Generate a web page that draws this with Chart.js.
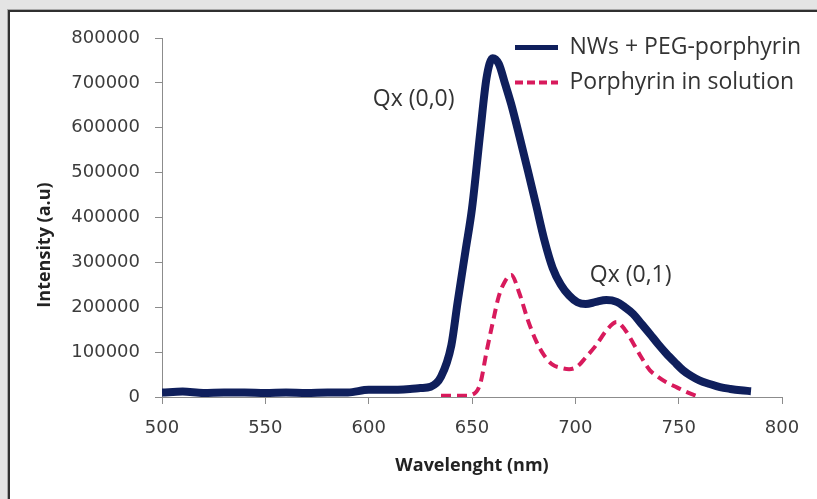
<!DOCTYPE html>
<html>
<head>
<meta charset="utf-8">
<script src="https://cdn.jsdelivr.net/npm/chart.js@4.4.1/dist/chart.umd.min.js"></script>
<style>
  html, body { margin: 0; padding: 0; }
  body { width: 817px; height: 499px; background: #e4e4e4; position: relative; overflow: hidden; }
  .frame { position: absolute; left: 7px; top: 9px; right: 0; bottom: 0; border-top: 1px solid #a8a8a8; border-left: 1px solid #a8a8a8; }
  .inner { position: absolute; left: 0; top: 0; right: 0; bottom: 0; border-top: 2px solid #303030; border-left: 2px solid #303030; background: #fff; }
  #grafico { position: absolute; left: 0; top: 0; }
</style>
</head>
<body>
<div class="frame"><div class="inner"></div></div>
<canvas id="grafico" width="817" height="499"></canvas>
<script>
const longitudOnda = [500, 510, 520, 530, 540, 550, 560, 570, 580, 590, 600, 610, 620, 625, 630, 635, 640, 643, 647, 650, 654, 657, 660, 663, 666, 669, 673, 677, 681, 685, 689, 693, 697, 701, 705, 710, 715, 720, 724, 728, 732, 736, 740, 744, 748, 752, 756, 760, 765, 770, 775, 780, 785];
const nwsPeg = [10000, 12000, 9000, 10000, 10000, 9000, 10000, 9000, 10000, 10000, 16000, 16000, 18000, 20000, 23000, 45000, 115000, 210000, 330000, 420000, 590000, 710000, 755000, 742000, 698000, 652000, 580000, 505000, 428000, 350000, 288000, 250000, 226000, 211000, 207000, 212000, 216000, 212000, 200000, 185000, 163000, 141000, 118000, 97000, 78000, 60000, 47000, 37000, 29000, 22000, 18000, 15000, 13000];
const porfirinaSolucion = [null, null, null, null, null, null, null, null, null, null, null, null, null, null, null, 3000, 3000, 3000, 3000, 5000, 30000, 100000, 165000, 225000, 258000, 272000, 230000, 172000, 125000, 92000, 72000, 65000, 62000, 68000, 88000, 115000, 148000, 167000, 150000, 120000, 88000, 60000, 45000, 33000, 24000, 15000, 7000, 0, null, null, null, null, null];

const ticksY = [0, 100000, 200000, 300000, 400000, 500000, 600000, 700000, 800000];
const ticksX = [500, 550, 600, 650, 700, 750, 800];

const notasTexto = ["Qx (0,0)", "Qx (0,1)"];
const notasX = [602, 707];
const notasY = [662000, 271000];
const tituloY = "Intensity (a.u)";

function puntos(valores) {
	return longitudOnda.map((x, i) => ({ x: x, y: valores[i] })).filter((p) => p.y !== null);
}

const fuente = "'Open Sans', 'DejaVu Sans', sans-serif";
const fuenteEjes = "'DejaVu Sans', sans-serif";

// Leyenda colocada sobre el área del gráfico, arriba a la derecha
const posLeyenda = {
	id: "posLeyenda",
	afterUpdate(chart) {
		const lg = chart.legend;
		lg.fit();
		lg.left = 503;
		lg.right = 817;
		lg.top = 24;
		lg.bottom = 160;
		lg.adjustHitBoxes();
	},
};

// Etiquetas Qx sobre los picos y título del eje Y
const notas = {
	id: "notas",
	afterDatasetsDraw(chart) {
		const { ctx, scales } = chart;
		ctx.save();
		ctx.font = "23px " + fuente;
		ctx.fillStyle = "#333";
		ctx.textAlign = "left";
		ctx.textBaseline = "middle";
		notasTexto.forEach((t, i) => {
			ctx.fillText(t, scales.x.getPixelForValue(notasX[i]), scales.y.getPixelForValue(notasY[i]));
		});
		ctx.translate(45, 245);
		ctx.rotate(-Math.PI / 2);
		ctx.textAlign = "center";
		ctx.font = "bold 18px " + fuente;
		ctx.fillStyle = "#222";
		ctx.fillText(tituloY, 0, 0);
		ctx.restore();
	},
};

let config = {
	type: "line",
	data: {
		datasets: [
			{
				label: "NWs + PEG-porphyrin",
				data: puntos(nwsPeg),
				borderColor: "#0f1f5c",
				backgroundColor: "#0f1f5c",
				borderWidth: 8,
				pointRadius: 0,
				cubicInterpolationMode: "monotone",
			},
			{
				label: "Porphyrin in solution",
				data: puntos(porfirinaSolucion),
				borderColor: "#d81a5c",
				backgroundColor: "#d81a5c",
				borderWidth: 4,
				borderDash: [10, 6],
				pointRadius: 0,
				cubicInterpolationMode: "monotone",
			},
		],
	},
	options: {
		responsive: false,
		animation: false,
		layout: { padding: { left: 0, right: 35, top: 38, bottom: 0 } },
		plugins: {
			tooltip: { enabled: false },
			legend: {
				position: "chartArea",
				align: "start",
				labels: {
					usePointStyle: true,
					pointStyle: "line",
					pointStyleWidth: 43,
					padding: 12,
					color: "#333",
					font: { family: fuente, size: 23 },
					generateLabels(chart) {
						const items = Chart.defaults.plugins.legend.labels.generateLabels(chart);
						items.forEach((it, i) => {
							it.lineWidth = i === 0 ? 5 : 4;
							it.lineDash = i === 0 ? [] : [8, 4];
						});
						return items;
					},
				},
			},
		},
		scales: {
			x: {
				type: "linear",
				min: 500,
				max: 800,
				afterBuildTicks: (s) => { s.ticks = ticksX.map((v) => ({ value: v })); },
				afterFit: (s) => { s.height = 102; },
				grid: { drawOnChartArea: false, drawTicks: true, tickLength: 7, color: "#8c8c8c" },
				border: { color: "#8c8c8c", width: 1 },
				ticks: { color: "#3c3c3c", padding: 14, maxRotation: 0, font: { family: fuenteEjes, size: 18 } },
				title: { display: true, text: "Wavelenght (nm)", color: "#222", padding: { top: 0, bottom: 22 }, font: { family: fuente, size: 18, weight: "bold" } },
			},
			y: {
				min: 0,
				max: 800000,
				afterBuildTicks: (s) => { s.ticks = ticksY.map((v) => ({ value: v })); },
				afterFit: (s) => { s.width = 162; },
				grid: { drawOnChartArea: false, drawTicks: true, tickLength: 7, color: "#8c8c8c" },
				border: { color: "#8c8c8c", width: 1 },
				ticks: { color: "#3c3c3c", padding: 15, font: { family: fuenteEjes, size: 18 }, callback: (v) => String(v) },
			},
		},
	},
	plugins: [posLeyenda, notas],
};

const chart = new Chart(document.getElementById("grafico"), config);
</script>
</body>
</html>
